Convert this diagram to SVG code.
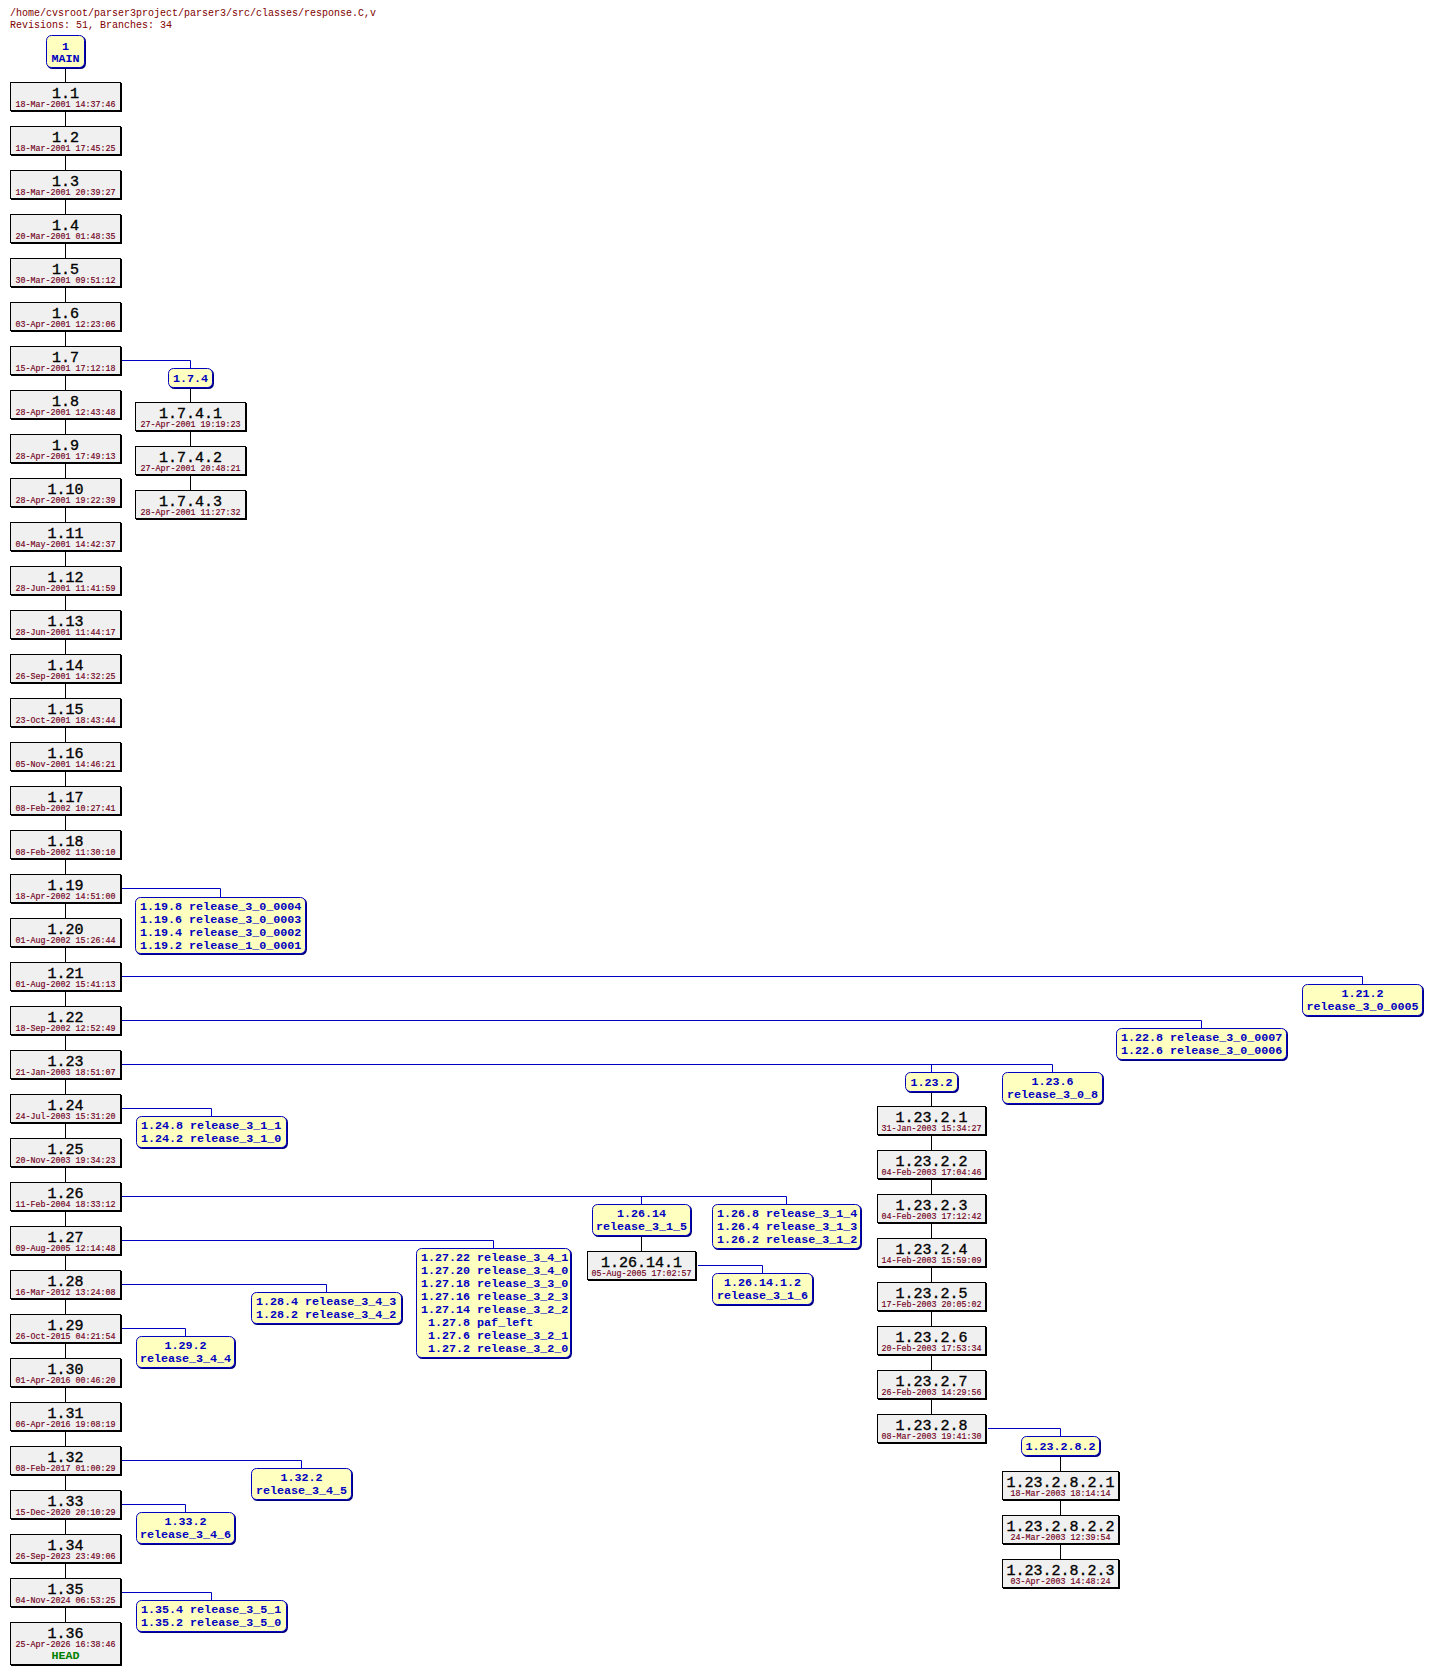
<svg xmlns="http://www.w3.org/2000/svg" width="1433" height="1675" viewBox="0 0 1433 1675">
<style>
.bg{fill:#fff}
.ttl{font:10px "Liberation Mono",monospace;fill:#800000}
.s{fill:#000}
.b{fill:#f0f0f0;stroke:#000;stroke-width:1}
.n{font:15px "Liberation Mono",monospace;fill:#000;stroke:#000;stroke-width:0.35;text-anchor:middle}
.d{font:8.33px "Liberation Mono",monospace;fill:#700020;stroke:#700020;stroke-width:0.15;text-anchor:middle}
.hd{font:bold 11.7px "Liberation Mono",monospace;fill:#008000;text-anchor:middle}
.bs{fill:#000080}
.bb{fill:#ffffc0;stroke:#0000c0;stroke-width:1}
.t{font:bold 11.7px "Liberation Mono",monospace;fill:#0000c0}
.c{text-anchor:middle}
.k{stroke:#000;stroke-width:1;fill:none}
.bl{stroke:#0000c0;stroke-width:1;fill:none}
</style>
<rect class="bg" x="0" y="0" width="1433" height="1675"/>
<text class="ttl" x="10" y="16">/home/cvsroot/parser3project/parser3/src/classes/response.C,v</text>
<text class="ttl" x="10" y="28">Revisions: 51, Branches: 34</text>

<g id="connectors">
<path class="k" d="M65.5 69V1622"/>
<path class="k" d="M190.5 389V490"/>
<path class="k" d="M931.5 1093V1414"/>
<path class="k" d="M1060.5 1457V1559"/>
<path class="k" d="M641.5 1237V1251"/>
<path class="bl" d="M122 360.5H190.5V368"/>
<path class="bl" d="M122 888.5H220.5V897"/>
<path class="bl" d="M122 976.5H1362.5V984"/>
<path class="bl" d="M122 1020.5H1201.5V1028"/>
<path class="bl" d="M122 1064.5H1052.5V1072M931.5 1064.5V1072"/>
<path class="bl" d="M122 1108.5H211.5V1116"/>
<path class="bl" d="M122 1196.5H786.5V1204M641.5 1196.5V1204"/>
<path class="bl" d="M122 1240.5H493.5V1248"/>
<path class="bl" d="M122 1284.5H326.5V1292"/>
<path class="bl" d="M122 1328.5H185.5V1336"/>
<path class="bl" d="M122 1460.5H301.5V1468"/>
<path class="bl" d="M122 1504.5H185.5V1512"/>
<path class="bl" d="M122 1592.5H211.5V1600"/>
<path class="bl" d="M988 1428.5H1060.5V1436"/>
<path class="bl" d="M698 1265.5H762.5V1273"/>
</g>

<g id="MAIN" transform="translate(46,35)"><rect class="bs" x="1" y="1" width="39" height="33" rx="5.5"/><rect class="bb" x=".5" y=".5" width="38" height="32" rx="5"/><text class="t c" x="19.5" y="15">1</text><text class="t c" x="19.5" y="27">MAIN</text></g>

<g id="r1.1" transform="translate(10,82)"><rect class="s" x="1" y="1" width="111" height="29"/><rect class="b" x=".5" y=".5" width="110" height="28"/><text class="n" x="55.5" y="16">1.1</text><text class="d" x="55.5" y="25">18-Mar-2001 14:37:46</text></g>
<g id="r1.2" transform="translate(10,126)"><rect class="s" x="1" y="1" width="111" height="29"/><rect class="b" x=".5" y=".5" width="110" height="28"/><text class="n" x="55.5" y="16">1.2</text><text class="d" x="55.5" y="25">18-Mar-2001 17:45:25</text></g>
<g id="r1.3" transform="translate(10,170)"><rect class="s" x="1" y="1" width="111" height="29"/><rect class="b" x=".5" y=".5" width="110" height="28"/><text class="n" x="55.5" y="16">1.3</text><text class="d" x="55.5" y="25">18-Mar-2001 20:39:27</text></g>
<g id="r1.4" transform="translate(10,214)"><rect class="s" x="1" y="1" width="111" height="29"/><rect class="b" x=".5" y=".5" width="110" height="28"/><text class="n" x="55.5" y="16">1.4</text><text class="d" x="55.5" y="25">20-Mar-2001 01:48:35</text></g>
<g id="r1.5" transform="translate(10,258)"><rect class="s" x="1" y="1" width="111" height="29"/><rect class="b" x=".5" y=".5" width="110" height="28"/><text class="n" x="55.5" y="16">1.5</text><text class="d" x="55.5" y="25">30-Mar-2001 09:51:12</text></g>
<g id="r1.6" transform="translate(10,302)"><rect class="s" x="1" y="1" width="111" height="29"/><rect class="b" x=".5" y=".5" width="110" height="28"/><text class="n" x="55.5" y="16">1.6</text><text class="d" x="55.5" y="25">03-Apr-2001 12:23:06</text></g>
<g id="r1.7" transform="translate(10,346)"><rect class="s" x="1" y="1" width="111" height="29"/><rect class="b" x=".5" y=".5" width="110" height="28"/><text class="n" x="55.5" y="16">1.7</text><text class="d" x="55.5" y="25">15-Apr-2001 17:12:18</text></g>
<g id="r1.8" transform="translate(10,390)"><rect class="s" x="1" y="1" width="111" height="29"/><rect class="b" x=".5" y=".5" width="110" height="28"/><text class="n" x="55.5" y="16">1.8</text><text class="d" x="55.5" y="25">28-Apr-2001 12:43:48</text></g>
<g id="r1.9" transform="translate(10,434)"><rect class="s" x="1" y="1" width="111" height="29"/><rect class="b" x=".5" y=".5" width="110" height="28"/><text class="n" x="55.5" y="16">1.9</text><text class="d" x="55.5" y="25">28-Apr-2001 17:49:13</text></g>
<g id="r1.10" transform="translate(10,478)"><rect class="s" x="1" y="1" width="111" height="29"/><rect class="b" x=".5" y=".5" width="110" height="28"/><text class="n" x="55.5" y="16">1.10</text><text class="d" x="55.5" y="25">28-Apr-2001 19:22:39</text></g>
<g id="r1.11" transform="translate(10,522)"><rect class="s" x="1" y="1" width="111" height="29"/><rect class="b" x=".5" y=".5" width="110" height="28"/><text class="n" x="55.5" y="16">1.11</text><text class="d" x="55.5" y="25">04-May-2001 14:42:37</text></g>
<g id="r1.12" transform="translate(10,566)"><rect class="s" x="1" y="1" width="111" height="29"/><rect class="b" x=".5" y=".5" width="110" height="28"/><text class="n" x="55.5" y="16">1.12</text><text class="d" x="55.5" y="25">28-Jun-2001 11:41:59</text></g>
<g id="r1.13" transform="translate(10,610)"><rect class="s" x="1" y="1" width="111" height="29"/><rect class="b" x=".5" y=".5" width="110" height="28"/><text class="n" x="55.5" y="16">1.13</text><text class="d" x="55.5" y="25">28-Jun-2001 11:44:17</text></g>
<g id="r1.14" transform="translate(10,654)"><rect class="s" x="1" y="1" width="111" height="29"/><rect class="b" x=".5" y=".5" width="110" height="28"/><text class="n" x="55.5" y="16">1.14</text><text class="d" x="55.5" y="25">26-Sep-2001 14:32:25</text></g>
<g id="r1.15" transform="translate(10,698)"><rect class="s" x="1" y="1" width="111" height="29"/><rect class="b" x=".5" y=".5" width="110" height="28"/><text class="n" x="55.5" y="16">1.15</text><text class="d" x="55.5" y="25">23-Oct-2001 18:43:44</text></g>
<g id="r1.16" transform="translate(10,742)"><rect class="s" x="1" y="1" width="111" height="29"/><rect class="b" x=".5" y=".5" width="110" height="28"/><text class="n" x="55.5" y="16">1.16</text><text class="d" x="55.5" y="25">05-Nov-2001 14:46:21</text></g>
<g id="r1.17" transform="translate(10,786)"><rect class="s" x="1" y="1" width="111" height="29"/><rect class="b" x=".5" y=".5" width="110" height="28"/><text class="n" x="55.5" y="16">1.17</text><text class="d" x="55.5" y="25">08-Feb-2002 10:27:41</text></g>
<g id="r1.18" transform="translate(10,830)"><rect class="s" x="1" y="1" width="111" height="29"/><rect class="b" x=".5" y=".5" width="110" height="28"/><text class="n" x="55.5" y="16">1.18</text><text class="d" x="55.5" y="25">08-Feb-2002 11:30:10</text></g>
<g id="r1.19" transform="translate(10,874)"><rect class="s" x="1" y="1" width="111" height="29"/><rect class="b" x=".5" y=".5" width="110" height="28"/><text class="n" x="55.5" y="16">1.19</text><text class="d" x="55.5" y="25">18-Apr-2002 14:51:00</text></g>
<g id="r1.20" transform="translate(10,918)"><rect class="s" x="1" y="1" width="111" height="29"/><rect class="b" x=".5" y=".5" width="110" height="28"/><text class="n" x="55.5" y="16">1.20</text><text class="d" x="55.5" y="25">01-Aug-2002 15:26:44</text></g>
<g id="r1.21" transform="translate(10,962)"><rect class="s" x="1" y="1" width="111" height="29"/><rect class="b" x=".5" y=".5" width="110" height="28"/><text class="n" x="55.5" y="16">1.21</text><text class="d" x="55.5" y="25">01-Aug-2002 15:41:13</text></g>
<g id="r1.22" transform="translate(10,1006)"><rect class="s" x="1" y="1" width="111" height="29"/><rect class="b" x=".5" y=".5" width="110" height="28"/><text class="n" x="55.5" y="16">1.22</text><text class="d" x="55.5" y="25">18-Sep-2002 12:52:49</text></g>
<g id="r1.23" transform="translate(10,1050)"><rect class="s" x="1" y="1" width="111" height="29"/><rect class="b" x=".5" y=".5" width="110" height="28"/><text class="n" x="55.5" y="16">1.23</text><text class="d" x="55.5" y="25">21-Jan-2003 18:51:07</text></g>
<g id="r1.24" transform="translate(10,1094)"><rect class="s" x="1" y="1" width="111" height="29"/><rect class="b" x=".5" y=".5" width="110" height="28"/><text class="n" x="55.5" y="16">1.24</text><text class="d" x="55.5" y="25">24-Jul-2003 15:31:20</text></g>
<g id="r1.25" transform="translate(10,1138)"><rect class="s" x="1" y="1" width="111" height="29"/><rect class="b" x=".5" y=".5" width="110" height="28"/><text class="n" x="55.5" y="16">1.25</text><text class="d" x="55.5" y="25">20-Nov-2003 19:34:23</text></g>
<g id="r1.26" transform="translate(10,1182)"><rect class="s" x="1" y="1" width="111" height="29"/><rect class="b" x=".5" y=".5" width="110" height="28"/><text class="n" x="55.5" y="16">1.26</text><text class="d" x="55.5" y="25">11-Feb-2004 18:33:12</text></g>
<g id="r1.27" transform="translate(10,1226)"><rect class="s" x="1" y="1" width="111" height="29"/><rect class="b" x=".5" y=".5" width="110" height="28"/><text class="n" x="55.5" y="16">1.27</text><text class="d" x="55.5" y="25">09-Aug-2005 12:14:48</text></g>
<g id="r1.28" transform="translate(10,1270)"><rect class="s" x="1" y="1" width="111" height="29"/><rect class="b" x=".5" y=".5" width="110" height="28"/><text class="n" x="55.5" y="16">1.28</text><text class="d" x="55.5" y="25">16-Mar-2012 13:24:08</text></g>
<g id="r1.29" transform="translate(10,1314)"><rect class="s" x="1" y="1" width="111" height="29"/><rect class="b" x=".5" y=".5" width="110" height="28"/><text class="n" x="55.5" y="16">1.29</text><text class="d" x="55.5" y="25">26-Oct-2015 04:21:54</text></g>
<g id="r1.30" transform="translate(10,1358)"><rect class="s" x="1" y="1" width="111" height="29"/><rect class="b" x=".5" y=".5" width="110" height="28"/><text class="n" x="55.5" y="16">1.30</text><text class="d" x="55.5" y="25">01-Apr-2016 00:46:20</text></g>
<g id="r1.31" transform="translate(10,1402)"><rect class="s" x="1" y="1" width="111" height="29"/><rect class="b" x=".5" y=".5" width="110" height="28"/><text class="n" x="55.5" y="16">1.31</text><text class="d" x="55.5" y="25">06-Apr-2016 19:08:19</text></g>
<g id="r1.32" transform="translate(10,1446)"><rect class="s" x="1" y="1" width="111" height="29"/><rect class="b" x=".5" y=".5" width="110" height="28"/><text class="n" x="55.5" y="16">1.32</text><text class="d" x="55.5" y="25">08-Feb-2017 01:00:29</text></g>
<g id="r1.33" transform="translate(10,1490)"><rect class="s" x="1" y="1" width="111" height="29"/><rect class="b" x=".5" y=".5" width="110" height="28"/><text class="n" x="55.5" y="16">1.33</text><text class="d" x="55.5" y="25">15-Dec-2020 20:10:29</text></g>
<g id="r1.34" transform="translate(10,1534)"><rect class="s" x="1" y="1" width="111" height="29"/><rect class="b" x=".5" y=".5" width="110" height="28"/><text class="n" x="55.5" y="16">1.34</text><text class="d" x="55.5" y="25">26-Sep-2023 23:49:06</text></g>
<g id="r1.35" transform="translate(10,1578)"><rect class="s" x="1" y="1" width="111" height="29"/><rect class="b" x=".5" y=".5" width="110" height="28"/><text class="n" x="55.5" y="16">1.35</text><text class="d" x="55.5" y="25">04-Nov-2024 06:53:25</text></g>
<g id="r1.36" transform="translate(10,1622)"><rect class="s" x="1" y="1" width="111" height="43"/><rect class="b" x=".5" y=".5" width="110" height="42"/><text class="n" x="55.5" y="16">1.36</text><text class="d" x="55.5" y="25">25-Apr-2026 16:38:46</text><text class="hd" x="55.5" y="37">HEAD</text></g>

<g id="b1.7.4" transform="translate(168,368)"><rect class="bs" x="1" y="1" width="45" height="20" rx="5.5"/><rect class="bb" x=".5" y=".5" width="44" height="19" rx="5"/><text class="t c" x="22.5" y="14">1.7.4</text></g>
<g id="r1.7.4.1" transform="translate(135,402)"><rect class="s" x="1" y="1" width="111" height="29"/><rect class="b" x=".5" y=".5" width="110" height="28"/><text class="n" x="55.5" y="16">1.7.4.1</text><text class="d" x="55.5" y="25">27-Apr-2001 19:19:23</text></g>
<g id="r1.7.4.2" transform="translate(135,446)"><rect class="s" x="1" y="1" width="111" height="29"/><rect class="b" x=".5" y=".5" width="110" height="28"/><text class="n" x="55.5" y="16">1.7.4.2</text><text class="d" x="55.5" y="25">27-Apr-2001 20:48:21</text></g>
<g id="r1.7.4.3" transform="translate(135,490)"><rect class="s" x="1" y="1" width="111" height="29"/><rect class="b" x=".5" y=".5" width="110" height="28"/><text class="n" x="55.5" y="16">1.7.4.3</text><text class="d" x="55.5" y="25">28-Apr-2001 11:27:32</text></g>

<g id="b1.19" transform="translate(135,897)"><rect class="bs" x="1" y="1" width="171" height="57" rx="5.5"/><rect class="bb" x=".5" y=".5" width="170" height="56" rx="5"/><text class="t" x="5" y="13">1.19.8 release_3_0_0004</text><text class="t" x="5" y="26">1.19.6 release_3_0_0003</text><text class="t" x="5" y="39">1.19.4 release_3_0_0002</text><text class="t" x="5" y="52">1.19.2 release_1_0_0001</text></g>

<g id="b1.21.2" transform="translate(1302,984)"><rect class="bs" x="1" y="1" width="121" height="32" rx="5.5"/><rect class="bb" x=".5" y=".5" width="120" height="31" rx="5"/><text class="t c" x="60.5" y="13">1.21.2</text><text class="t c" x="60.5" y="26">release_3_0_0005</text></g>

<g id="b1.22" transform="translate(1116,1028)"><rect class="bs" x="1" y="1" width="171" height="32" rx="5.5"/><rect class="bb" x=".5" y=".5" width="170" height="31" rx="5"/><text class="t" x="5" y="13">1.22.8 release_3_0_0007</text><text class="t" x="5" y="26">1.22.6 release_3_0_0006</text></g>

<g id="b1.23.2" transform="translate(905,1072)"><rect class="bs" x="1" y="1" width="53" height="20" rx="5.5"/><rect class="bb" x=".5" y=".5" width="52" height="19" rx="5"/><text class="t c" x="26.5" y="14">1.23.2</text></g>
<g id="b1.23.6" transform="translate(1002,1072)"><rect class="bs" x="1" y="1" width="101" height="32" rx="5.5"/><rect class="bb" x=".5" y=".5" width="100" height="31" rx="5"/><text class="t c" x="50.5" y="13">1.23.6</text><text class="t c" x="50.5" y="26">release_3_0_8</text></g>

<g id="r1.23.2.1" transform="translate(877,1106)"><rect class="s" x="1" y="1" width="109" height="29"/><rect class="b" x=".5" y=".5" width="108" height="28"/><text class="n" x="54.5" y="16">1.23.2.1</text><text class="d" x="54.5" y="25">31-Jan-2003 15:34:27</text></g>
<g id="r1.23.2.2" transform="translate(877,1150)"><rect class="s" x="1" y="1" width="109" height="29"/><rect class="b" x=".5" y=".5" width="108" height="28"/><text class="n" x="54.5" y="16">1.23.2.2</text><text class="d" x="54.5" y="25">04-Feb-2003 17:04:46</text></g>
<g id="r1.23.2.3" transform="translate(877,1194)"><rect class="s" x="1" y="1" width="109" height="29"/><rect class="b" x=".5" y=".5" width="108" height="28"/><text class="n" x="54.5" y="16">1.23.2.3</text><text class="d" x="54.5" y="25">04-Feb-2003 17:12:42</text></g>
<g id="r1.23.2.4" transform="translate(877,1238)"><rect class="s" x="1" y="1" width="109" height="29"/><rect class="b" x=".5" y=".5" width="108" height="28"/><text class="n" x="54.5" y="16">1.23.2.4</text><text class="d" x="54.5" y="25">14-Feb-2003 15:59:09</text></g>
<g id="r1.23.2.5" transform="translate(877,1282)"><rect class="s" x="1" y="1" width="109" height="29"/><rect class="b" x=".5" y=".5" width="108" height="28"/><text class="n" x="54.5" y="16">1.23.2.5</text><text class="d" x="54.5" y="25">17-Feb-2003 20:05:02</text></g>
<g id="r1.23.2.6" transform="translate(877,1326)"><rect class="s" x="1" y="1" width="109" height="29"/><rect class="b" x=".5" y=".5" width="108" height="28"/><text class="n" x="54.5" y="16">1.23.2.6</text><text class="d" x="54.5" y="25">20-Feb-2003 17:53:34</text></g>
<g id="r1.23.2.7" transform="translate(877,1370)"><rect class="s" x="1" y="1" width="109" height="29"/><rect class="b" x=".5" y=".5" width="108" height="28"/><text class="n" x="54.5" y="16">1.23.2.7</text><text class="d" x="54.5" y="25">26-Feb-2003 14:29:56</text></g>
<g id="r1.23.2.8" transform="translate(877,1414)"><rect class="s" x="1" y="1" width="109" height="29"/><rect class="b" x=".5" y=".5" width="108" height="28"/><text class="n" x="54.5" y="16">1.23.2.8</text><text class="d" x="54.5" y="25">08-Mar-2003 19:41:30</text></g>

<g id="b1.23.2.8.2" transform="translate(1021,1436)"><rect class="bs" x="1" y="1" width="79" height="20" rx="5.5"/><rect class="bb" x=".5" y=".5" width="78" height="19" rx="5"/><text class="t c" x="39.5" y="14">1.23.2.8.2</text></g>
<g id="r1.23.2.8.2.1" transform="translate(1002,1471)"><rect class="s" x="1" y="1" width="117" height="29"/><rect class="b" x=".5" y=".5" width="116" height="28"/><text class="n" x="58.5" y="16">1.23.2.8.2.1</text><text class="d" x="58.5" y="25">18-Mar-2003 18:14:14</text></g>
<g id="r1.23.2.8.2.2" transform="translate(1002,1515)"><rect class="s" x="1" y="1" width="117" height="29"/><rect class="b" x=".5" y=".5" width="116" height="28"/><text class="n" x="58.5" y="16">1.23.2.8.2.2</text><text class="d" x="58.5" y="25">24-Mar-2003 12:39:54</text></g>
<g id="r1.23.2.8.2.3" transform="translate(1002,1559)"><rect class="s" x="1" y="1" width="117" height="29"/><rect class="b" x=".5" y=".5" width="116" height="28"/><text class="n" x="58.5" y="16">1.23.2.8.2.3</text><text class="d" x="58.5" y="25">03-Apr-2003 14:48:24</text></g>

<g id="b1.24" transform="translate(136,1116)"><rect class="bs" x="1" y="1" width="151" height="32" rx="5.5"/><rect class="bb" x=".5" y=".5" width="150" height="31" rx="5"/><text class="t" x="5" y="13">1.24.8 release_3_1_1</text><text class="t" x="5" y="26">1.24.2 release_3_1_0</text></g>

<g id="b1.26.14" transform="translate(592,1204)"><rect class="bs" x="1" y="1" width="99" height="32" rx="5.5"/><rect class="bb" x=".5" y=".5" width="98" height="31" rx="5"/><text class="t c" x="49.5" y="13">1.26.14</text><text class="t c" x="49.5" y="26">release_3_1_5</text></g>
<g id="b1.26" transform="translate(712,1204)"><rect class="bs" x="1" y="1" width="149" height="45" rx="5.5"/><rect class="bb" x=".5" y=".5" width="148" height="44" rx="5"/><text class="t" x="5" y="13">1.26.8 release_3_1_4</text><text class="t" x="5" y="26">1.26.4 release_3_1_3</text><text class="t" x="5" y="39">1.26.2 release_3_1_2</text></g>
<g id="r1.26.14.1" transform="translate(587,1251)"><rect class="s" x="1" y="1" width="109" height="29"/><rect class="b" x=".5" y=".5" width="108" height="28"/><text class="n" x="54.5" y="16">1.26.14.1</text><text class="d" x="54.5" y="25">05-Aug-2005 17:02:57</text></g>
<g id="b1.26.14.1.2" transform="translate(712,1273)"><rect class="bs" x="1" y="1" width="101" height="32" rx="5.5"/><rect class="bb" x=".5" y=".5" width="100" height="31" rx="5"/><text class="t c" x="50.5" y="13">1.26.14.1.2</text><text class="t c" x="50.5" y="26">release_3_1_6</text></g>

<g id="b1.27" transform="translate(416,1248)"><rect class="bs" x="1" y="1" width="155" height="110" rx="5.5"/><rect class="bb" x=".5" y=".5" width="154" height="109" rx="5"/><text class="t" x="5" y="13">1.27.22 release_3_4_1</text><text class="t" x="5" y="26">1.27.20 release_3_4_0</text><text class="t" x="5" y="39">1.27.18 release_3_3_0</text><text class="t" x="5" y="52">1.27.16 release_3_2_3</text><text class="t" x="5" y="65">1.27.14 release_3_2_2</text><text class="t" x="12" y="78">1.27.8 paf_left</text><text class="t" x="12" y="91">1.27.6 release_3_2_1</text><text class="t" x="12" y="104">1.27.2 release_3_2_0</text></g>

<g id="b1.28" transform="translate(251,1292)"><rect class="bs" x="1" y="1" width="151" height="32" rx="5.5"/><rect class="bb" x=".5" y=".5" width="150" height="31" rx="5"/><text class="t" x="5" y="13">1.28.4 release_3_4_3</text><text class="t" x="5" y="26">1.28.2 release_3_4_2</text></g>
<g id="b1.29.2" transform="translate(136,1336)"><rect class="bs" x="1" y="1" width="99" height="32" rx="5.5"/><rect class="bb" x=".5" y=".5" width="98" height="31" rx="5"/><text class="t c" x="49.5" y="13">1.29.2</text><text class="t c" x="49.5" y="26">release_3_4_4</text></g>
<g id="b1.32.2" transform="translate(251,1468)"><rect class="bs" x="1" y="1" width="101" height="32" rx="5.5"/><rect class="bb" x=".5" y=".5" width="100" height="31" rx="5"/><text class="t c" x="50.5" y="13">1.32.2</text><text class="t c" x="50.5" y="26">release_3_4_5</text></g>
<g id="b1.33.2" transform="translate(136,1512)"><rect class="bs" x="1" y="1" width="99" height="32" rx="5.5"/><rect class="bb" x=".5" y=".5" width="98" height="31" rx="5"/><text class="t c" x="49.5" y="13">1.33.2</text><text class="t c" x="49.5" y="26">release_3_4_6</text></g>
<g id="b1.35" transform="translate(136,1600)"><rect class="bs" x="1" y="1" width="151" height="32" rx="5.5"/><rect class="bb" x=".5" y=".5" width="150" height="31" rx="5"/><text class="t" x="5" y="13">1.35.4 release_3_5_1</text><text class="t" x="5" y="26">1.35.2 release_3_5_0</text></g>
</svg>
